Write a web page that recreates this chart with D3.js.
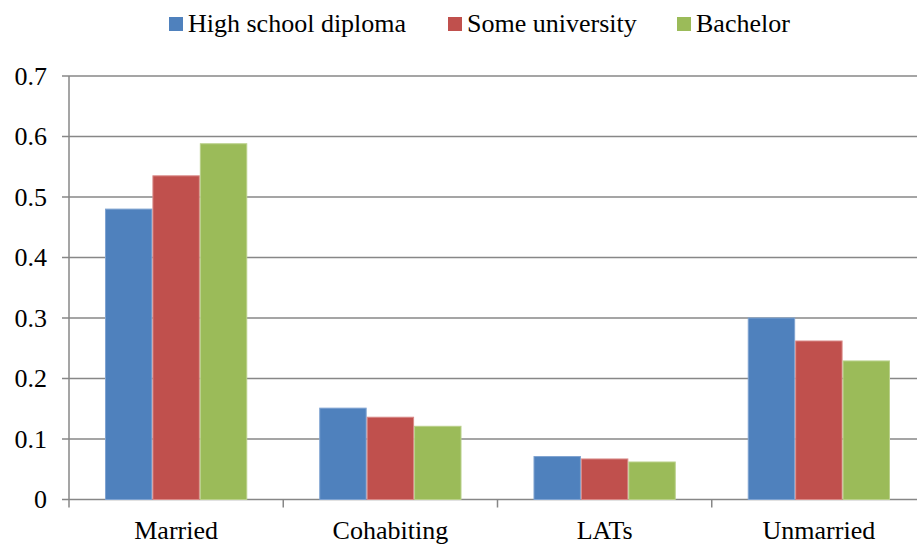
<!DOCTYPE html>
<html>
<head>
<meta charset="utf-8">
<script src="https://cdn.jsdelivr.net/npm/d3@7"></script>
<style>
    body { margin: 0; background: #fff; }
</style>
</head>
<body>
<div id="chart"></div>
<script>
// data
var categories = ["Married", "Cohabiting", "LATs", "Unmarried"];
var seriesNames = ["High school diploma", "Some university", "Bachelor"];
var highSchool = [0.48, 0.151, 0.071, 0.300];
var someUniversity = [0.535, 0.136, 0.067, 0.262];
var bachelor = [0.588, 0.121, 0.062, 0.229];
var yTicks = [0, 0.1, 0.2, 0.3, 0.4, 0.5, 0.6, 0.7];

var colors = ["#4F81BD", "#C0504D", "#9BBB59"];
var strokes = ["#7FA3D1", "#D98A88", "#B9D08A"];
var serif = "'Liberation Serif', 'Times New Roman', Times, 'DejaVu Serif', serif";

var W = 917, H = 544;
var plotLeft = 69, plotRight = 926, plotTop = 76, plotBottom = 499.5;

var svg = d3.select("#chart").append("svg")
    .attr("width", W)
    .attr("height", H);

var y = d3.scaleLinear().domain([0, 0.7]).range([plotBottom, plotTop]);
var x0 = d3.scaleBand().domain(categories).range([plotLeft, plotRight])
    .paddingInner(0.336).paddingOuter(0.168);
var x1 = d3.scaleBand().domain(seriesNames).range([0, x0.bandwidth()]);

// gridlines
svg.append("g")
    .selectAll("line")
    .data(yTicks)
    .enter().append("line")
    .attr("x1", plotLeft - 7)
    .attr("x2", W)
    .attr("y1", function(d) { return y(d); })
    .attr("y2", function(d) { return y(d); })
    .style("stroke", "#878787")
    .style("stroke-width", 1.5);

// bars
var table = categories.map(function(c, i) {
    return [highSchool[i], someUniversity[i], bachelor[i]];
});

var groups = svg.append("g").selectAll("g")
    .data(table)
    .enter().append("g")
    .attr("transform", function(d, i) { return "translate(" + x0(categories[i]) + ",0)"; });

groups.selectAll("rect")
    .data(function(d) { return d; })
    .enter().append("rect")
    .attr("x", function(d, j) { return x1(seriesNames[j]) + 0.5; })
    .attr("width", x1.bandwidth() - 1)
    .attr("y", function(d) { return y(d); })
    .attr("height", function(d) { return plotBottom - y(d); })
    .style("fill", function(d, j) { return colors[j]; })
    .style("stroke", function(d, j) { return strokes[j]; })
    .style("stroke-width", 1);

// y axis line
svg.append("line")
    .attr("x1", plotLeft).attr("x2", plotLeft)
    .attr("y1", plotTop).attr("y2", plotBottom)
    .style("stroke", "#878787")
    .style("stroke-width", 1.5);

// x axis
var xAxis = d3.axisBottom(x0).tickSize(0).tickPadding(21);
var gx = svg.append("g")
    .attr("transform", "translate(0," + plotBottom + ")")
    .call(xAxis);
gx.select(".domain").remove();
gx.attr("font-family", null);
gx.selectAll("text")
    .style("font-family", serif)
    .style("font-size", "26px")
    .style("fill", "#000")
    .attr("dy", "0.71em");

// category boundary ticks
var bounds = categories.map(function(c) { return x0(c) - x0.step() * x0.paddingOuter(); });
svg.append("g").selectAll("line")
    .data(bounds)
    .enter().append("line")
    .attr("x1", function(d) { return d; })
    .attr("x2", function(d) { return d; })
    .attr("y1", plotBottom)
    .attr("y2", plotBottom + 8)
    .style("stroke", "#878787")
    .style("stroke-width", 1.5);

// y labels
var yAxis = d3.axisLeft(y).tickValues(yTicks).tickSize(0).tickPadding(22)
    .tickFormat(function(d) { return d === 0 ? "0" : d3.format(".1f")(d); });
var gy = svg.append("g")
    .attr("transform", "translate(" + plotLeft + ",0)")
    .call(yAxis);
gy.select(".domain").remove();
gy.attr("font-family", null);
gy.selectAll("text")
    .style("font-family", serif)
    .style("font-size", "26px")
    .style("fill", "#000");

// legend
var legendX = [169, 448, 677];
var legend = svg.append("g").selectAll("g")
    .data(seriesNames)
    .enter().append("g")
    .attr("transform", function(d, i) { return "translate(" + legendX[i] + ",0)"; });

legend.append("rect")
    .attr("x", 0).attr("y", 17)
    .attr("width", 14).attr("height", 14)
    .style("fill", function(d, i) { return colors[i]; });

legend.append("text")
    .attr("x", 19).attr("y", 32)
    .style("font-family", serif)
    .style("font-size", "26px")
    .style("fill", "#000")
    .text(function(d) { return d; });
</script>
</body>
</html>
